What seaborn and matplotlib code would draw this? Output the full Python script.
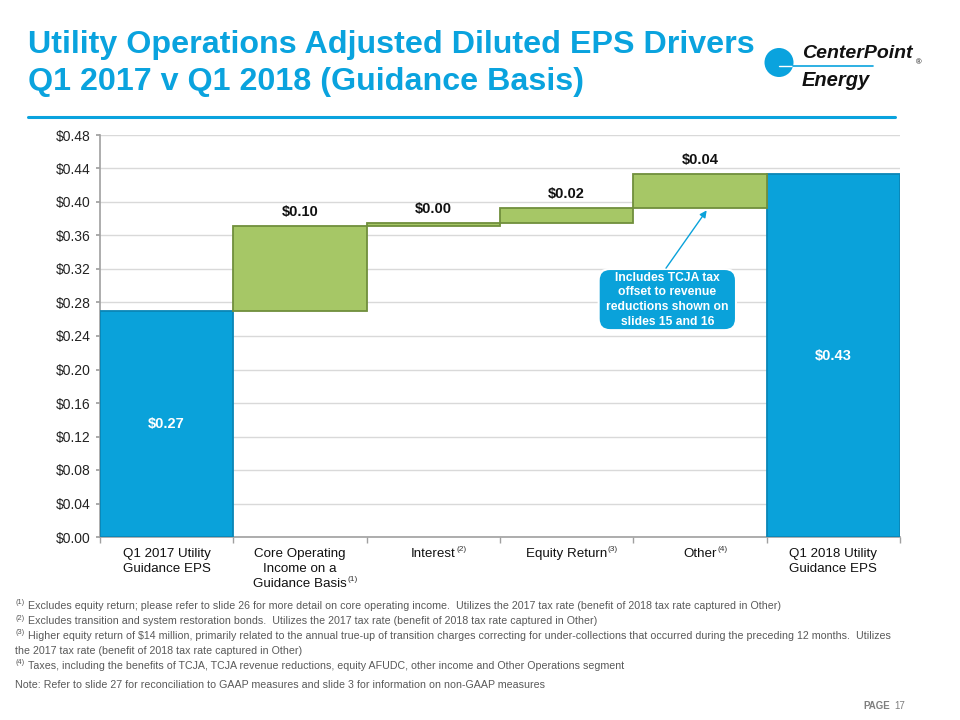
import matplotlib
matplotlib.use("Agg")
import matplotlib.pyplot as plt
import seaborn as sns
import pandas as pd
from matplotlib.patches import FancyBboxPatch, Circle
from matplotlib.lines import Line2D
from matplotlib.ticker import FixedLocator

# ---------------- data ----------------
categories = ["Q1 2017 Utility\nGuidance EPS", "Core Operating\nIncome on a\nGuidance Basis",
              "Interest", "Equity Return", "Other", "Q1 2018 Utility\nGuidance EPS"]
heights = [0.270, 0.101, 0.004, 0.018, 0.040, 0.433]
kinds = ["total", "change", "change", "change", "change", "total"]
value_labels = ["$0.27", "$0.10", "$0.00", "$0.02", "$0.04", "$0.43"]
superscripts = ["", "(1)", "(2)", "(3)", "(4)", ""]
y_ticks = [0.00, 0.04, 0.08, 0.12, 0.16, 0.20, 0.24, 0.28, 0.32, 0.36, 0.40, 0.44, 0.48]
title_lines = ["Utility Operations Adjusted Diluted EPS Drivers", "Q1 2017 v Q1 2018 (Guidance Basis)"]
callout_text = "Includes TCJA tax\noffset to revenue\nreductions shown on\nslides 15 and 16"
footnotes = [
    ("(1)", "Excludes equity return; please refer to slide 26 for more detail on core operating income.  Utilizes the 2017 tax rate (benefit of 2018 tax rate captured in Other)"),
    ("(2)", "Excludes transition and system restoration bonds.  Utilizes the 2017 tax rate (benefit of 2018 tax rate captured in Other)"),
    ("(3)", "Higher equity return of $14 million, primarily related to the annual true-up of transition charges correcting for under-collections that occurred during the preceding 12 months.  Utilizes"),
    ("", "the 2017 tax rate (benefit of 2018 tax rate captured in Other)"),
    ("(4)", "Taxes, including the benefits of TCJA, TCJA revenue reductions, equity AFUDC, other income and Other Operations segment"),
]
note_text = "Note: Refer to slide 27 for reconciliation to GAAP measures and slide 3 for information on non-GAAP measures"

# waterfall bottoms
bottoms = [0.0]
running = heights[0]
for h, k in zip(heights[1:], kinds[1:]):
    if k == "change":
        bottoms.append(running)
        running += h
    else:
        bottoms.append(0.0)

df = pd.DataFrame({"category": categories, "height": heights, "kind": kinds})

BLUE = "#0AA2DA"
BLUE_EDGE = "#0A86B6"
GREEN = "#A6C766"
GREEN_EDGE = "#708F3C"
TITLE_BLUE = "#0AA3DE"
GRAY_TXT = "#595959"

sns.set_theme(style="white")
plt.rcParams["font.family"] = ["Liberation Sans", "DejaVu Sans"]

fig = plt.figure(figsize=(9.6, 7.2), dpi=100)
W, H = 960, 720
ax = fig.add_axes([100 / W, 1 - 537 / H, 800 / W, 402 / H])

sns.barplot(data=df, x="category", y="height", hue="kind", order=categories,
            palette={"total": BLUE, "change": GREEN}, dodge=False, width=1.0,
            legend=False, ax=ax, zorder=3, linewidth=1.3, saturation=1.0)

for p in ax.patches:
    cx = p.get_x() + p.get_width() / 2
    i = int(round(cx))
    p.set_y(bottoms[i])
    p.set_edgecolor(BLUE_EDGE if kinds[i] == "total" else GREEN_EDGE)

ax.set_xlim(-0.5, 5.5)
ax.set_ylim(0, 0.48)
ax.set_yticks(y_ticks)
ax.set_yticklabels(["\\$%.2f" % v for v in y_ticks], fontsize=10, color="#222222")
ax.set_xticks(range(len(categories)))
ax.set_xticklabels(categories, fontsize=9.6, color="#111111", linespacing=1.3)
ax.tick_params(axis="x", length=0, pad=8)
ax.tick_params(axis="y", length=3, color="#A0A0A0", pad=4, left=True)
ax.xaxis.set_minor_locator(FixedLocator([-0.5 + i for i in range(7)]))
ax.tick_params(axis="x", which="minor", length=4, color="#A0A0A0", bottom=True)
ax.set_xlabel("")
ax.set_ylabel("")
ax.grid(axis="y", color="#D9D9D9", linewidth=1, zorder=0)
ax.set_axisbelow(True)
for s in ["top", "right"]:
    ax.spines[s].set_visible(False)
for s in ["left", "bottom"]:
    ax.spines[s].set_color("#A0A0A0")
    ax.spines[s].set_linewidth(1.2)

# value labels
for i, (lab, k) in enumerate(zip(value_labels, kinds)):
    if k == "total":
        ax.text(i, bottoms[i] + heights[i] / 2, lab.replace("$", "\\$"), ha="center", va="center",
                fontsize=10.5, fontweight="bold", color="white", zorder=5)
    else:
        ax.annotate(lab.replace("$", "\\$"), (i, bottoms[i] + heights[i]), xytext=(0, 10),
                    textcoords="offset points", ha="center", va="center",
                    fontsize=10.5, fontweight="bold", color="#111111", zorder=5)

# superscripts on category labels
fig.canvas.draw()
renderer = fig.canvas.get_renderer()
for tl, sup in zip(ax.get_xticklabels(), superscripts):
    if not sup:
        continue
    bb = tl.get_window_extent(renderer)
    lines = tl.get_text().split("\n")
    t = fig.text(0, 0, lines[-1], fontsize=9.6)
    wb = t.get_window_extent(renderer)
    t.remove()
    cx = (bb.x0 + bb.x1) / 2
    xr = cx + wb.width / 2 + 0.5
    ytop = bb.y0 + wb.height
    fig.text(xr / W, (ytop + 2) / H, sup, fontsize=6, color="#333333", ha="left", va="top")

# callout
box = FancyBboxPatch((3.24, 0.247), 1.03, 0.073, boxstyle="round,pad=0,rounding_size=0.085",
                     mutation_aspect=133.33 / 837.5, facecolor=BLUE, edgecolor="white", linewidth=1.5,
                     zorder=6, transform=ax.transData)
ax.add_patch(box)
ax.text(3.755, 0.2835, callout_text, ha="center", va="center", fontsize=8.7, fontweight="bold",
        color="white", linespacing=1.3, zorder=7)
ax.annotate("", xy=(4.05, 0.390), xytext=(3.745, 0.321),
            arrowprops=dict(arrowstyle="-|>", color=BLUE, lw=1, mutation_scale=10,
                            shrinkA=0, shrinkB=0), zorder=7)

# title
fig.text(28 / W, 1 - 45 / H, title_lines[0], fontsize=23.2, fontweight="bold", color=TITLE_BLUE,
         ha="left", va="center")
fig.text(28 / W, 1 - 82 / H, title_lines[1], fontsize=23.2, fontweight="bold", color=TITLE_BLUE,
         ha="left", va="center")
fig.add_artist(Line2D([28 / W, 895 / W], [1 - 117 / H, 1 - 117 / H], color=TITLE_BLUE, lw=2.2))

# logo
circle = Circle((779, H - 62.5), 14.5, facecolor=TITLE_BLUE, edgecolor="none",
                transform=None)
fig.add_artist(circle)
fig.add_artist(Line2D([779 / W, 793 / W], [1 - 66 / H, 1 - 66 / H], color="white", lw=1))
fig.add_artist(Line2D([793 / W, 873 / W], [1 - 66 / H, 1 - 66 / H], color=TITLE_BLUE, lw=1.2))
fig.text(802 / W, 1 - 54 / H, "CenterPoint", fontsize=14, fontweight="bold", fontstyle="italic",
         color="#111111", ha="left", va="center")
fig.text(916 / W, 1 - 63 / H, "®", fontsize=5.5, color="#111111", ha="left", va="center")
fig.text(802 / W, 1 - 80 / H, "Energy", fontsize=14.5, fontweight="bold", fontstyle="italic",
         color="#111111", ha="left", va="center")

# footnotes
FN = 7.65
ys = [606, 621, 636, 651, 666]
for (sup, body), y in zip(footnotes, ys):
    if sup:
        fig.text(15 / W, 1 - (y - 3) / H, sup, fontsize=5.3, color=GRAY_TXT, ha="left", va="center")
        fig.text(28 / W, 1 - y / H, body.replace("$", "\\$"), fontsize=FN, color=GRAY_TXT, ha="left", va="center")
    else:
        fig.text(15 / W, 1 - y / H, body, fontsize=FN, color=GRAY_TXT, ha="left", va="center")
fig.text(15 / W, 1 - 685 / H, note_text, fontsize=FN, color=GRAY_TXT, ha="left", va="center")
fig.text(890 / W, 1 - 706 / H, "PAGE", fontsize=7, fontweight="bold", color="#7F7F7F", ha="right", va="center")
fig.text(894 / W, 1 - 706 / H, "17", fontsize=7, color="#7F7F7F", ha="left", va="center")

fig.savefig("out.png", dpi=100)
